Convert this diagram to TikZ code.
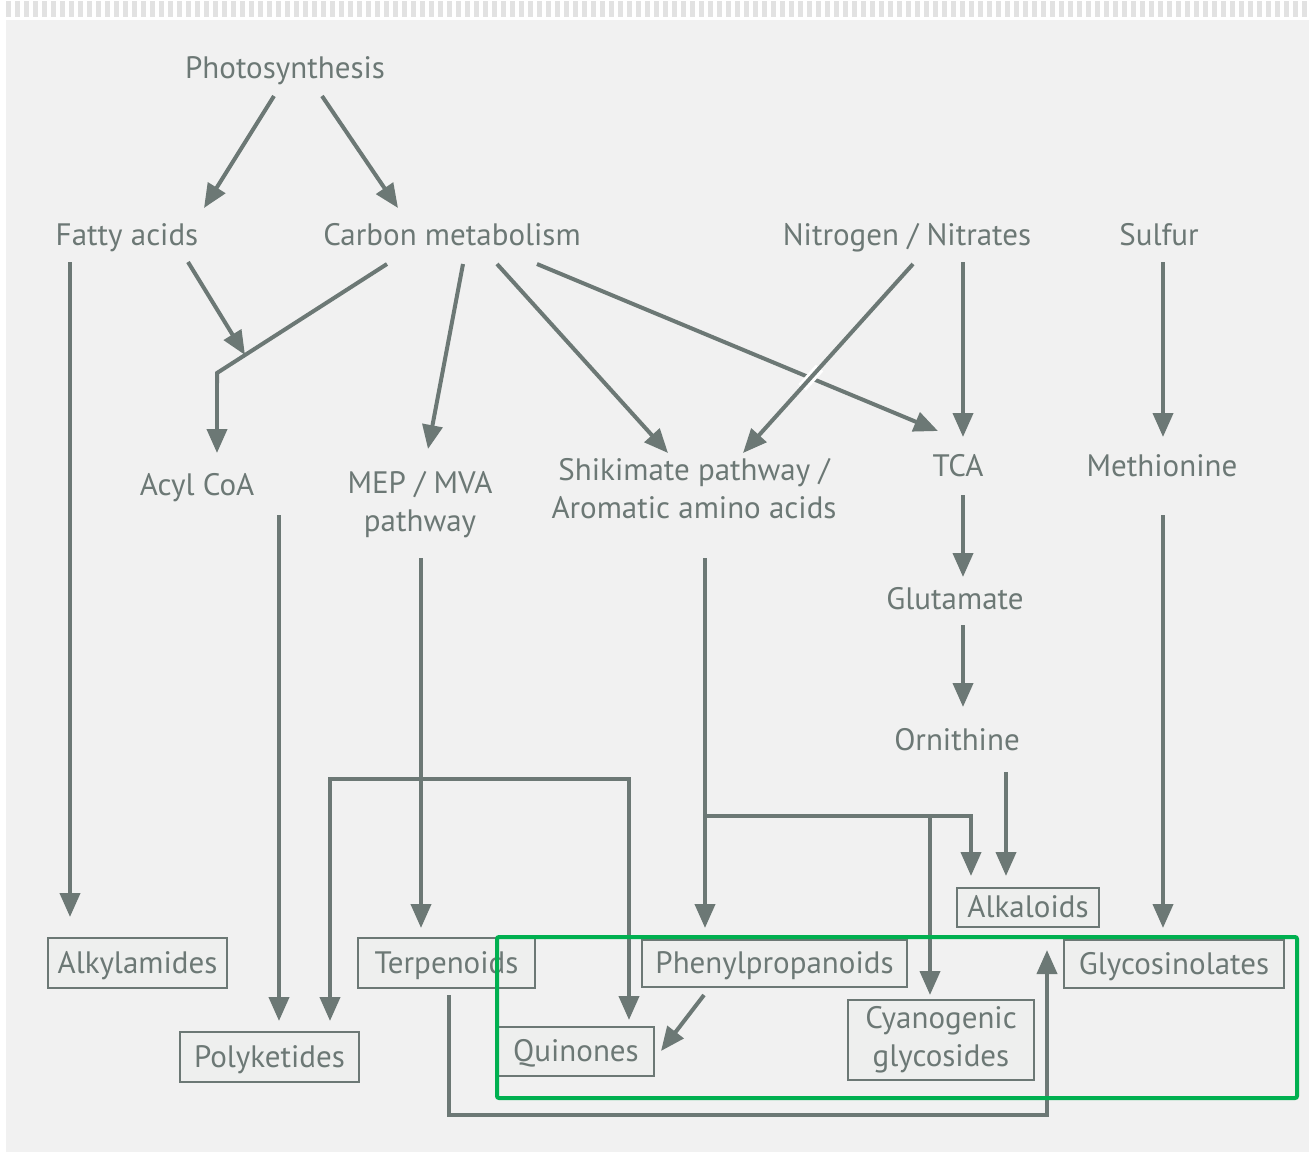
\documentclass[tikz,border=0pt]{standalone}
\usepackage{fontspec}
\setmainfont{PT Sans}
\usetikzlibrary{arrows.meta,calc}
\definecolor{ln}{HTML}{6C7875}
\definecolor{bgc}{HTML}{F1F1F1}
\definecolor{bxc}{HTML}{EEEFEE}
\definecolor{grn}{HTML}{00B050}
\definecolor{strip}{HTML}{E2E2E2}
\begin{document}
\begin{tikzpicture}[x=1pt,y=-1pt,
  lbl/.style={text=ln, font=\fontsize{31}{38}\selectfont, inner sep=0pt, align=center},
  box/.style={lbl, draw=ln, line width=2.5pt, fill=bxc, text height=20pt, text depth=0pt},
  arr/.style={draw=ln, line width=4pt, -{Triangle[length=24pt,width=20pt]}},
  plain/.style={draw=ln, line width=4pt}]
\path[use as bounding box] (0,0) rectangle (1309,1152);
\fill[white] (0,0) rectangle (1309,1152);
\draw[strip, line width=16pt, dash pattern=on 5pt off 4pt] (6,9) -- (1309,9);
\fill[bgc] (6,20) rectangle (1309,1152);

% labels
\node[lbl, anchor=base] (photo) at (285,78) {Photosynthesis};
\node[lbl, anchor=base] (fatty) at (127,245) {Fatty acids};
\node[lbl, anchor=base] (carbon) at (452,245) {Carbon metabolism};
\node[lbl, anchor=base] (nitro) at (907,245) {Nitrogen / Nitrates};
\node[lbl, anchor=base] (sulfur) at (1159,245) {Sulfur};
\node[lbl, anchor=base] (acyl) at (197,495) {Acyl CoA};
\node[lbl] (mep) at (420,505) {MEP / MVA\\pathway};
\node[lbl] (shik) at (694,489) {Shikimate pathway /\\Aromatic amino acids};
\node[lbl, anchor=base] (tca) at (958,476) {TCA};
\node[lbl, anchor=base] (meth) at (1162,476) {Methionine};
\node[lbl, anchor=base] (glu) at (955,609) {Glutamate};
\node[lbl, anchor=base] (orn) at (957,750) {Ornithine};

% boxes
\node[box, minimum width=142pt, minimum height=39pt] (alk) at (1028,907.5) {Alkaloids};
\node[box, minimum width=179pt, minimum height=50pt] (alkyl) at (137.5,963) {Alkylamides};
\node[box, minimum width=177pt, minimum height=50pt] (terp) at (446.5,963) {Terpenoids};
\node[box, minimum width=265pt, minimum height=47pt] (phen) at (774.5,963.5) {Phenylpropanoids};
\node[box, minimum width=220pt, minimum height=48pt] (glyc) at (1174,964) {Glycosinolates};
\node[box, minimum width=179pt, minimum height=50pt] (poly) at (269.5,1057) {Polyketides};
\node[box, minimum width=156pt, minimum height=49pt] (quin) at (576,1051.5) {Quinones};
\node[lbl, draw=ln, line width=2.5pt, fill=bxc, minimum width=186pt, minimum height=80pt] (cyan) at (941,1040) {Cyanogenic\\glycosides};

% connector end points
\coordinate (p1) at (274,96);   \coordinate (fa1) at (204,208);
\coordinate (p2) at (322,96);   \coordinate (cm0) at (398,208);
\coordinate (fa2) at (70,262);  \coordinate (ak1) at (70,917);
\coordinate (fa3) at (188,262); \coordinate (jn) at (245,355);
\coordinate (cm1) at (387,264); \coordinate (bend) at (217,373); \coordinate (ac1) at (217,453);
\coordinate (cm2) at (463,264); \coordinate (mp1) at (428,449);
\coordinate (cm3) at (497,264); \coordinate (sk1) at (668,453);
\coordinate (cm4) at (537,264); \coordinate (tc1) at (938,431);
\coordinate (ni1) at (913,264); \coordinate (sk2) at (743,453);
\coordinate (ni2) at (963,262); \coordinate (tc2) at (963,437);
\coordinate (su1) at (1163,262); \coordinate (me1) at (1163,437);
\coordinate (ac2) at (279,515); \coordinate (po1) at (279,1021);
\coordinate (mp2) at (421,558); \coordinate (te1) at (421,928);
\coordinate (br) at (421,779);
\coordinate (po2) at (330,1021); \coordinate (qu1) at (629,1020);
\coordinate (sk3) at (705,558); \coordinate (ph1) at (705,928);
\coordinate (brr) at (705,816);
\coordinate (al1) at (971,876); \coordinate (cy1) at (930,995);
\coordinate (tc3) at (963,495); \coordinate (gl1) at (963,577);
\coordinate (gl2) at (963,625); \coordinate (or1) at (963,707);
\coordinate (or2) at (1006,772); \coordinate (al2) at (1006,876);
\coordinate (me2) at (1163,515); \coordinate (gy1) at (1163,928);
\coordinate (ph2) at (704,995); \coordinate (qu2) at (661,1051);
\coordinate (te2) at (449,995); \coordinate (gy2) at (1047,950);
\coordinate (cross) at (810.9,377.7);

% connectors
\draw[arr] (p1) -- (fa1);
\draw[arr] (p2) -- (cm0);
\draw[arr] (fa2) -- (ak1);
\draw[plain, line join=miter] (cm1) -- (bend) -- ++(0,10);
\draw[arr] (bend) -- (ac1);
\draw[arr] (fa3) -- (jn);
\draw[arr] (cm2) -- (mp1);
\draw[arr] (cm3) -- (sk1);
\draw[arr] (cm4) -- (tc1);
\draw[white, line width=10pt] ($(cross)+(8.7,-9.7)$) -- ($(cross)+(-8.7,9.7)$);
\draw[arr] (ni1) -- (sk2);
\draw[arr] (ni2) -- (tc2);
\draw[arr] (su1) -- (me1);
\draw[arr] (ac2) -- (po1);
\draw[arr] (mp2) -- (te1);
\draw[arr, line join=miter] (br) -| (po2);
\draw[arr, line join=miter] (br) -| (qu1);
\draw[arr] (sk3) -- (ph1);
\draw[arr, line join=miter] (brr) -| (al1);
\draw[arr] (brr -| cy1) -- (cy1);
\draw[arr] (tc3) -- (gl1);
\draw[arr] (gl2) -- (or1);
\draw[arr] (or2) -- (al2);
\draw[arr] (me2) -- (gy1);
\draw[arr] (ph2) -- (qu2);
\draw[arr, line join=miter] (te2) -- (449,1115) -| (gy2);

% highlight
\draw[grn, line width=4pt, rounded corners=2pt] (497,937) rectangle (1297,1098);
\end{tikzpicture}
\end{document}
